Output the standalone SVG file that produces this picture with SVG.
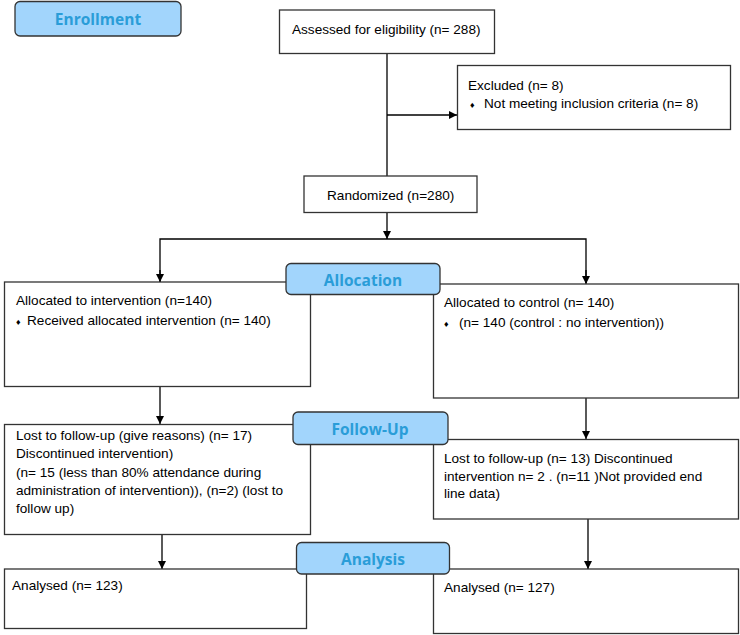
<svg xmlns="http://www.w3.org/2000/svg" width="740" height="635" viewBox="0 0 740 635">
<defs>
<marker id="ah" markerWidth="8" markerHeight="8" refX="8" refY="4" orient="auto" markerUnits="userSpaceOnUse">
<path d="M0,0 L8,4 L0,8 Z" fill="#000"/>
</marker>
<style>
.box{fill:#fff;stroke:#333;stroke-width:1.3}
.pill{fill:#a2d5fc;stroke:#333;stroke-width:1.3}
.t{font-family:"Liberation Sans",Arial,sans-serif;font-size:13.6px;fill:#000}
.b{font-size:9px}
.lab{font-family:"Open Sans","Noto Sans",sans-serif;font-weight:bold;font-size:15.5px;fill:#2a9dd8;text-anchor:middle}
.ln{fill:none;stroke:#000;stroke-width:1.3}
</style>
</defs>
<rect width="740" height="635" fill="#fff"/>
<g id="connectors">
<line class="ln" x1="387" y1="53" x2="387" y2="176"/>
<line class="ln" x1="387" y1="115" x2="457" y2="115" marker-end="url(#ah)"/>
<line class="ln" x1="387" y1="212" x2="387" y2="239" marker-end="url(#ah)"/>
<polyline class="ln" points="160,282 160,239 586,239 586,283" />
<line class="ln" x1="160" y1="270" x2="160" y2="282" marker-end="url(#ah)"/>
<line class="ln" x1="586" y1="270" x2="586" y2="284" marker-end="url(#ah)"/>
<line class="ln" x1="160" y1="387" x2="160" y2="424" marker-end="url(#ah)"/>
<line class="ln" x1="586" y1="398" x2="586" y2="439" marker-end="url(#ah)"/>
<line class="ln" x1="162" y1="534" x2="162" y2="569" marker-end="url(#ah)"/>
<line class="ln" x1="588" y1="519" x2="588" y2="569" marker-end="url(#ah)"/>
</g>
<g id="enrollment">
<rect class="pill" x="15" y="1.5" width="166" height="34.5" rx="5"/>
<text class="lab" x="98" y="25">Enrollment</text>
</g>
<g id="assessed">
<rect class="box" x="279.5" y="10" width="215" height="43.5"/>
<text class="t" x="292" y="34">Assessed for eligibility (n= 288)</text>
</g>
<g id="excluded">
<rect class="box" x="457.5" y="65.5" width="273" height="64"/>
<text class="t" x="468" y="90">Excluded (n= 8)</text>
<text class="t" x="470" y="108"><tspan class="b">♦</tspan><tspan x="484">Not meeting inclusion criteria (n= 8)</tspan></text>
</g>
<g id="randomized">
<rect class="box" x="304" y="176" width="173" height="36.5"/>
<text class="t" x="327" y="200">Randomized (n=280)</text>
</g>
<g id="alloc-intervention">
<rect class="box" x="4.5" y="282" width="306" height="104.5"/>
<text class="t" x="16" y="305">Allocated to intervention (n=140)</text>
<text class="t" x="16" y="325"><tspan class="b">♦</tspan><tspan x="27">Received allocated intervention (n= 140)</tspan></text>
</g>
<g id="alloc-control">
<rect class="box" x="433.5" y="284" width="305" height="114"/>
<text class="t" x="444" y="307">Allocated to control (n= 140)</text>
<text class="t" x="444" y="327"><tspan class="b">♦</tspan><tspan x="459">(n= 140 (control : no intervention))</tspan></text>
</g>
<g id="allocation">
<rect class="pill" x="286" y="263.5" width="154" height="31" rx="5"/>
<text class="lab" x="363" y="286">Allocation</text>
</g>
<g id="followup-intervention">
<rect class="box" x="4.5" y="424.5" width="306" height="110"/>
<text class="t" x="16" y="440">Lost to follow-up (give reasons) (n= 17)</text>
<text class="t" x="16" y="458">Discontinued intervention)</text>
<text class="t" x="16" y="477">(n= 15 (less than 80% attendance during</text>
<text class="t" x="16" y="495">administration of intervention)), (n=2) (lost to</text>
<text class="t" x="16" y="513">follow up)</text>
</g>
<g id="followup-control">
<rect class="box" x="433.5" y="439.5" width="305" height="79.5"/>
<text class="t" x="444" y="463">Lost to follow-up  (n= 13) Discontinued</text>
<text class="t" x="444" y="481">intervention n= 2 . (n=11 )Not provided end</text>
<text class="t" x="444" y="498">line data)</text>
</g>
<g id="followup">
<rect class="pill" x="293" y="412" width="155" height="32.5" rx="5"/>
<text class="lab" x="370" y="435">Follow-Up</text>
</g>
<g id="analysed-intervention">
<rect class="box" x="4.5" y="569" width="302" height="59.5"/>
<text class="t" x="12" y="590">Analysed  (n= 123)</text>
</g>
<g id="analysed-control">
<rect class="box" x="433.5" y="569" width="305" height="64.5"/>
<text class="t" x="444" y="592">Analysed  (n= 127)</text>
</g>
<g id="analysis">
<rect class="pill" x="296.5" y="542.5" width="153" height="31.5" rx="5"/>
<text class="lab" x="373" y="565">Analysis</text>
</g>
</svg>
